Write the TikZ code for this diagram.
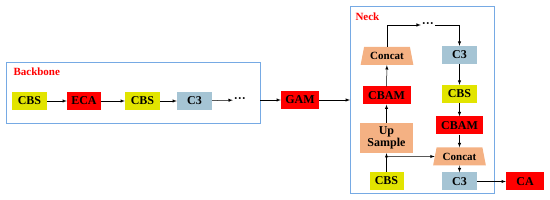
\documentclass[tikz,border=0pt]{standalone}
\usepackage{fontspec}
\setmainfont{Liberation Serif}
\usetikzlibrary{shapes.geometric}
\definecolor{cbsyellow}{RGB}{226,228,0}
\definecolor{c3blue}{RGB}{165,196,212}
\definecolor{sampletan}{RGB}{244,177,131}
\definecolor{frameblue}{RGB}{118,170,228}
\begin{document}
\begin{tikzpicture}[>=latex,x=1pt,y=-1pt,
  blk/.style={minimum height=18pt,inner sep=1pt,font=\bfseries\fontsize{12}{13}\selectfont},
  cbs/.style={blk,fill=cbsyellow,minimum width=35pt},
  redb/.style={blk,fill=red,minimum width=#1},
  cthree/.style={blk,fill=c3blue,minimum width=35pt},
  concat/.style={blk,trapezium,trapezium left angle=74,trapezium right angle=74,
    trapezium stretches=true,fill=sampletan,minimum width=53pt,
    font=\bfseries\fontsize{11}{12}\selectfont},
  dots/.style={inner sep=1pt,font=\bfseries\fontsize{12}{13}\selectfont},
  grp/.style={draw=frameblue,thick},
  grplabel/.style={anchor=west,text=red,font=\bfseries\fontsize{11}{12}\selectfont},
  conn/.style={->,semithin}]
  \tikzset{semithin/.style={line width=0.5pt}}
  \useasboundingbox (0,0) rectangle (550,200);
  % Backbone
  \draw[grp] (6,62) rectangle (260,123);
  \coordinate (bbout) at (260,100);
  \node[grplabel] (bblabel) at (10,72) {Backbone};
  \node[cbs] (cbs1) at (29.5,101) {CBS};
  \node[redb=34pt] (eca) at (84,101) {ECA};
  \node[cbs] (cbs2) at (142.5,101) {CBS};
  \node[cthree] (c3a) at (194.5,101) {C3};
  \node[dots] (dots1) at (240,100) {···};
  \draw[conn] (cbs1) -- (eca);
  \draw[conn] (eca) -- (cbs2);
  \draw[conn] (cbs2) -- (c3a);
  \draw[conn] (c3a) -- (dots1);
  % GAM
  \node[redb=38pt] (gam) at (300,100) {GAM};
  \draw[conn] (bbout) -- (gam);
  % Neck
  \draw[grp] (350,6) rectangle (494,193);
  \coordinate (neckin) at (350,100);
  \node[grplabel] (necklabel) at (352,17) {Neck};
  \draw[conn] (gam) -- (neckin);
  \node[concat] (cat1) at (387,56) {Concat};
  \node[redb=48pt] (cbam1) at (386.5,95.5) {CBAM};
  \node[blk,fill=sampletan,minimum width=53pt,minimum height=30pt,align=center]
    (up) at (386.5,138) {Up\\[-1pt]Sample};
  \node[cbs,minimum width=34pt] (cbs3) at (386.5,181) {CBS};
  \node[dots] (dots2) at (428,25) {···};
  \node[cthree] (c3b) at (459.5,55) {C3};
  \node[cbs] (cbs4) at (459.5,94) {CBS};
  \node[redb=47pt] (cbam2) at (459.5,125.5) {CBAM};
  \node[concat] (cat2) at (459.5,156.5) {Concat};
  \node[cthree] (c3c) at (459.5,181.5) {C3};
  \node[redb=38pt] (ca) at (525,181.5) {CA};
  \coordinate (split) at (386.5,156.5);
  \draw[conn] (cbs3) -- (up);
  \draw[conn] (up) -- (cbam1);
  \draw[conn] (cbam1) -- (cat1);
  \draw[conn] (cat1) |- (dots2);
  \draw[conn] (dots2) -| (c3b);
  \draw[conn] (c3b) -- (cbs4);
  \draw[conn] (cbs4) -- (cbam2);
  \draw[conn] (cbam2) -- (cat2);
  \draw[conn] (split) -- (cat2);
  \draw[conn] (cat2) -- (c3c);
  \draw[conn] (c3c) -- (ca);
\end{tikzpicture}
\end{document}
